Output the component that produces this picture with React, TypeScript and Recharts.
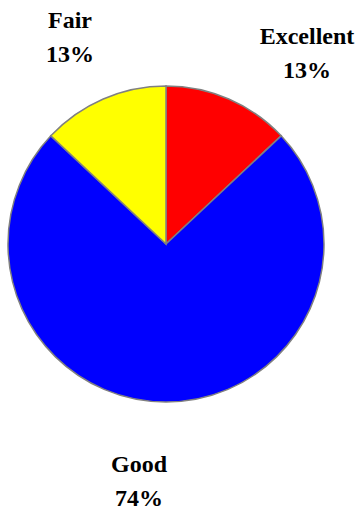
import React from "react";
import { PieChart, Pie, Cell } from "recharts";

const categories = ["Excellent", "Good", "Fair"];
const values = [13, 74, 13];
const percentLabels = ["13%", "74%", "13%"];
const colors = ["#FF0000", "#0000FF", "#FFFF00"];

const data = categories.map((name, i) => ({ name, value: values[i], pct: percentLabels[i] }));

// label layout (text centre x, first-line baseline y)
const labelLayout: Record<string, { x: number; y: number }> = {
  Excellent: { x: 307, y: 44 },
  Fair: { x: 70, y: 28 },
  Good: { x: 139, y: 472 },
};

const renderLabel = (props: any) => {
  const { name, payload } = props;
  const pos = labelLayout[name];
  if (!pos) return null;
  return (
    <text
      x={pos.x}
      y={pos.y}
      textAnchor="middle"
      fill="#000"
      fontFamily="Liberation Serif"
      fontWeight="bold"
      fontSize={24}
    >
      <tspan x={pos.x} y={pos.y}>{name}</tspan>
      <tspan x={pos.x} dy={34}>{payload?.pct ?? props.pct}</tspan>
    </text>
  );
};

export default function App() {
  return (
    <div style={{ position: "absolute", left: 0, top: 0, background: "#fff" }}>
      <PieChart width={362} height={513} margin={{ top: 0, right: 0, bottom: 0, left: 0 }}>
        <Pie
          data={data}
          dataKey="value"
          nameKey="name"
          cx={166}
          cy={244}
          outerRadius={158}
          startAngle={90}
          endAngle={-270}
          stroke="#808080"
          strokeWidth={1.5}
          label={renderLabel}
          labelLine={false}
          isAnimationActive={false}
        >
          {data.map((d, i) => (
            <Cell key={d.name} fill={colors[i]} />
          ))}
        </Pie>
      </PieChart>
    </div>
  );
}
